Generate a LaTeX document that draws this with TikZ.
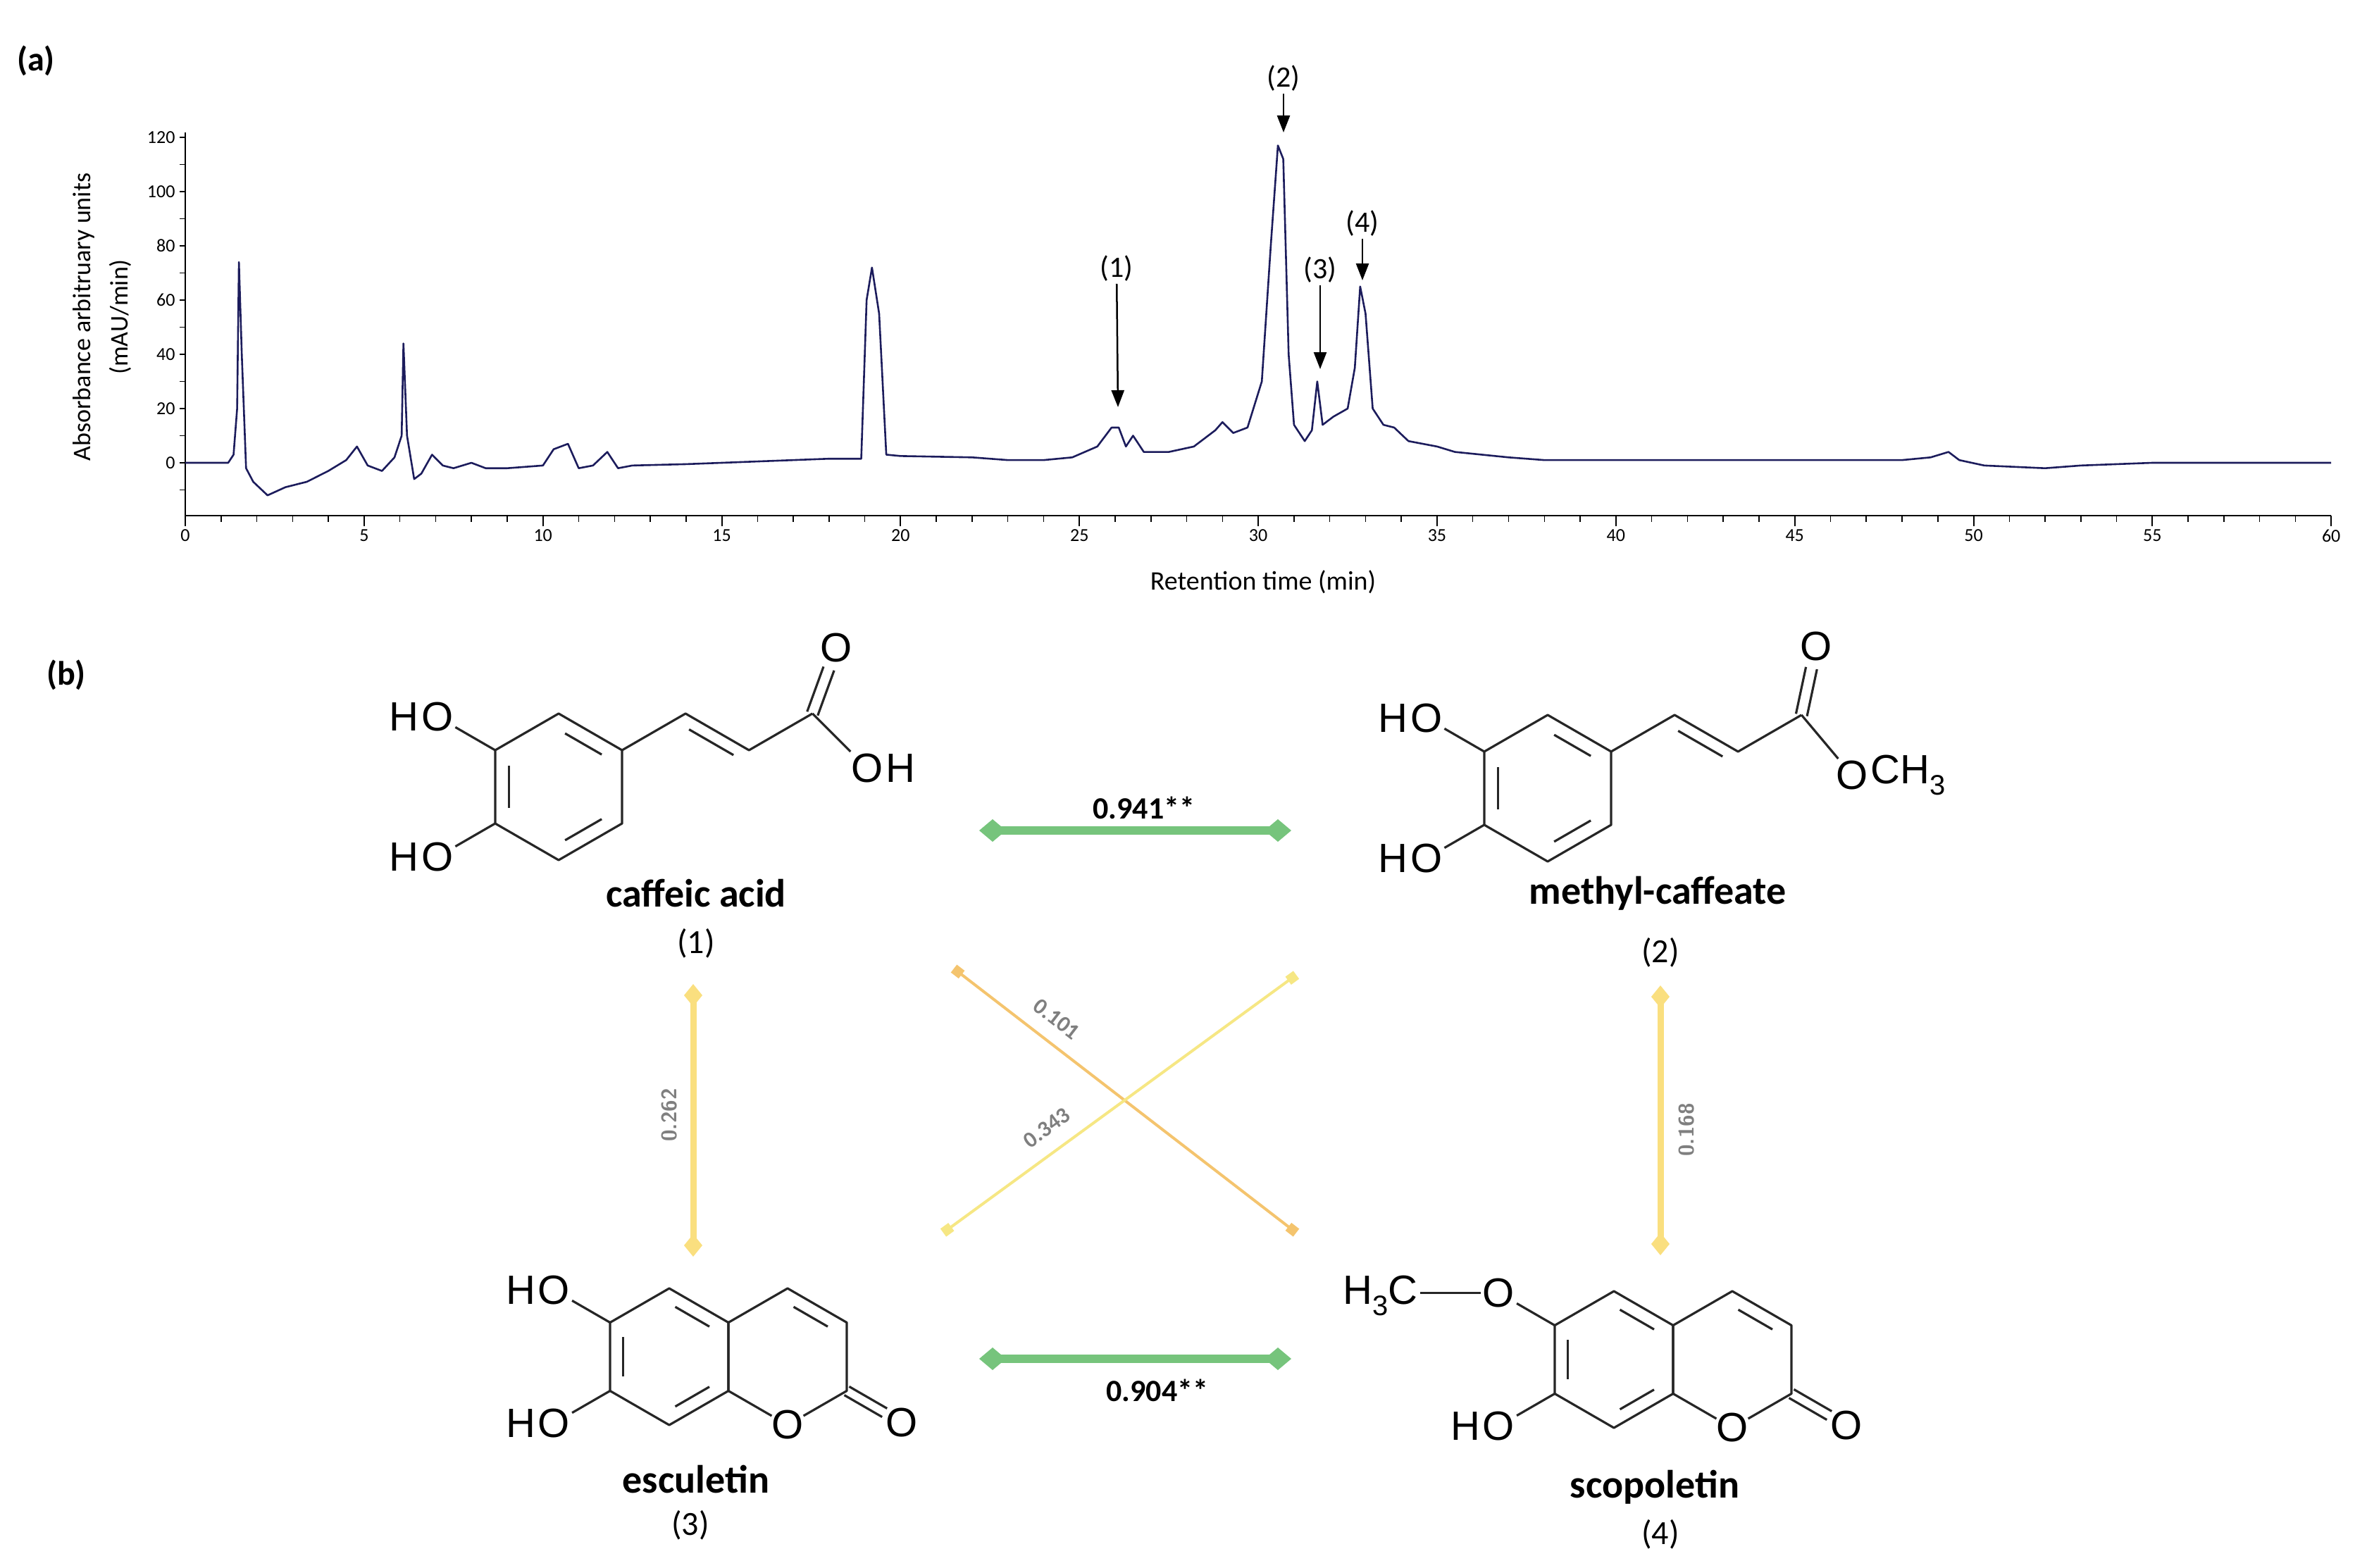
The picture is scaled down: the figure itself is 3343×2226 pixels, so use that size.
\documentclass[tikz,border=0pt]{standalone}
\usepackage{fontspec}
\setmainfont{Carlito}
\newfontfamily\chemf{Liberation Sans}
\usetikzlibrary{calc,arrows.meta}
\definecolor{navy}{HTML}{1C1C5C}
\definecolor{cgreen}{HTML}{76C47C}
\definecolor{cyel}{HTML}{FADF7F}
\definecolor{corange}{HTML}{F4C46E}
\definecolor{clyel}{HTML}{F6E784}
\definecolor{lgray}{HTML}{7F7F7F}
\newcommand\sbt{\raisebox{-0.28em}{\fontsize{40}{40}\selectfont 3}}
\tikzset{
 bond/.style={line width=3.2pt,black!85},
 atomlab/.style={font=\chemf\fontsize{58}{60}\selectfont,inner sep=3pt},
 cname/.style={font=\bfseries\fontsize{56}{60}\selectfont},
 cnum/.style={font=\fontsize{48}{54}\selectfont},
 peaklab/.style={font=\fontsize{42}{48}\selectfont},
 ticklab/.style={font=\fontsize{26}{30}\selectfont},
 pkarrow/.style={-{Triangle[length=24pt,width=18pt]},line width=2.5pt},
 strong/.style={cgreen,line width=12pt,{Diamond[length=38pt,width=32pt]}-{Diamond[length=38pt,width=32pt]}},
 weakv/.style={cyel,line width=9pt,{Diamond[length=32pt,width=26pt]}-{Diamond[length=32pt,width=26pt]}},
 weakd/.style={line width=4pt,{Square[length=14pt,width=14pt]}-{Square[length=14pt,width=14pt]}},
 coeflab/.style={font=\bfseries\fontsize{44}{48}\selectfont},
 wcoef/.style={font=\bfseries\fontsize{32}{36}\selectfont,text=lgray,inner sep=1pt}
}
\newcommand\ring[3]{\foreach \k in {0,...,5} \coordinate (#1\k) at ($(#2)+({90-60*\k}:#3)$);
 \coordinate (#1c) at (#2);
 \draw[bond,line join=round] (#10)--(#11)--(#12)--(#13)--(#14)--(#15)--cycle;}
\newcommand\inb[3]{\draw[bond] ($($(#1)!0.22!(#3)$)!0.13!($(#2)!0.22!(#3)$)$) -- ($($(#2)!0.22!(#3)$)!0.13!($(#1)!0.22!(#3)$)$);}
\begin{document}
\begin{tikzpicture}[x=1pt,y=-1pt]
\useasboundingbox (0,0) rectangle (3343,2226);
% ---------- (a) ----------
\node[font=\bfseries\fontsize{48}{50}\selectfont] (la) at (51,86) {(a)};
\draw[line width=2.5pt] (263,188) -- (263,732) -- (3309,732);
\foreach \t in {0,...,60} \draw[line width=1.5pt] ({263+\t*50.77},732) -- ++(0,9);
\foreach \t in {0,5,...,60} {\draw[line width=2pt] ({263+\t*50.77},732) -- ++(0,15);
 \node[ticklab,anchor=north] at ({263+\t*50.77},748) {\t};}
\foreach \v in {-10,0,10,...,120} \draw[line width=1.5pt] (263,{657-\v*3.85}) -- ++(-8,0);
\foreach \v in {0,20,...,120} \node[ticklab,anchor=east] at (252,{657-\v*3.85}) {\v};
\node[font=\fontsize{36}{53}\selectfont,rotate=90,align=center] (ylab) at (145,450) {Absorbance arbitruary units\\(mAU/min)};
\node[font=\fontsize{38}{40}\selectfont] (xlab) at (1793,826) {Retention time (min)};
\begin{scope}[shift={(263,657)},x=50.77pt,y=3.85pt]
\draw[navy,line width=2.6pt,line join=round] plot coordinates {
(0,0)(1.2,0)(1.35,3)(1.45,20)(1.5,74)(1.58,40)(1.7,-2)(1.9,-7)(2.3,-12)(2.8,-9)(3.4,-7)(4,-3)(4.5,1)(4.8,6)(5.1,-1)(5.5,-3)(5.85,2)(6.05,10)(6.1,44)(6.2,10)(6.4,-6)(6.6,-4)(6.9,3)(7.2,-1)(7.5,-2)(8,0)(8.4,-2)(9,-2)(10,-1)(10.3,5)(10.7,7)(11,-2)(11.4,-1)(11.8,4)(12.1,-2)(12.5,-1)(14,-0.5)(15,0)(16,0.5)(17,1)(18,1.5)(18.9,1.5)(19.05,60)(19.2,72)(19.4,55)(19.6,3)(20,2.5)(22,2)(23,1)(24,1)(24.8,2)(25.5,6)(25.9,13)(26.1,13)(26.3,6)(26.5,10)(26.8,4)(27.5,4)(28.2,6)(28.8,12)(29,15)(29.3,11)(29.7,13)(30.1,30)(30.35,80)(30.55,117)(30.7,112)(30.85,40)(31,14)(31.3,8)(31.5,12)(31.65,30)(31.8,14)(32.1,17)(32.5,20)(32.7,35)(32.85,65)(33,55)(33.2,20)(33.5,14)(33.8,13)(34.2,8)(35,6)(35.5,4)(37,2)(38,1)(42,1)(46,1)(48,1)(48.8,2)(49.3,4)(49.6,1)(50.3,-1)(52,-2)(53,-1)(55,0)(60,0)};
\end{scope}
\node[peaklab] (p1) at (1585,381) {(1)};
\node[peaklab] (p2) at (1822,111) {(2)};
\node[peaklab] (p3) at (1874,383) {(3)};
\node[peaklab] (p4) at (1934,317) {(4)};
\coordinate (e1) at (1587,578); \coordinate (e2) at (1822,188);
\coordinate (e3) at (1874,524); \coordinate (e4) at (1934,398);
\draw[pkarrow] (p1) -- (e1); \draw[pkarrow] (p2) -- (e2); \draw[pkarrow] (p3) -- (e3); \draw[pkarrow] (p4) -- (e4);
% ---------- (b) ----------
\node[font=\bfseries\fontsize{48}{50}\selectfont] (lb) at (94,958) {(b)};
% caffeic acid
\begin{scope}[shift={(793,1117)},y=1pt]
\ring{A}{0,0}{104}
\inb{A4}{A5}{Ac}\inb{A0}{A1}{Ac}\inb{A2}{A3}{Ac}
\node[atomlab] (Ao1) at ($(A5)+(150:95)$) {O}; \node[atomlab,anchor=east,inner sep=0] at (Ao1.west) {H};
\node[atomlab] (Ao2) at ($(A4)+(-150:95)$) {O}; \node[atomlab,anchor=east,inner sep=0] at (Ao2.west) {H};
\draw[bond] (A5)--(Ao1); \draw[bond] (A4)--(Ao2);
\coordinate (Aa1) at ($(A1)+(30:104)$); \coordinate (Aa2) at ($(Aa1)+(-30:104)$); \coordinate (Aa3) at ($(Aa2)+(30:104)$);
\draw[bond,line join=round] (A1)--(Aa1)--(Aa2)--(Aa3);
\draw[bond] ($(Aa1)!0.15!(Aa2)+(-120:17)$) -- ($(Aa2)!0.15!(Aa1)+(-120:17)$);
\node[atomlab] (AO) at ($(Aa3)+(70:100)$) {O};
\draw[bond] ($(Aa3)+(160:8)$) -- ($(Aa3)+(70:68)+(160:8)$);
\draw[bond] ($(Aa3)+(-20:8)$) -- ($(Aa3)+(70:68)+(-20:8)$);
\node[atomlab] (AOH) at ($(Aa3)+(-45:110)$) {O}; \node[atomlab,anchor=west,inner sep=0] at (AOH.east) {H};
\draw[bond] (Aa3)--(AOH);
\end{scope}
% methyl caffeate
\begin{scope}[shift={(2197,1119)},y=1pt]
\ring{B}{0,0}{104}
\inb{B4}{B5}{Bc}\inb{B0}{B1}{Bc}\inb{B2}{B3}{Bc}
\node[atomlab] (Bo1) at ($(B5)+(150:95)$) {O}; \node[atomlab,anchor=east,inner sep=0] at (Bo1.west) {H};
\node[atomlab] (Bo2) at ($(B4)+(-150:95)$) {O}; \node[atomlab,anchor=east,inner sep=0] at (Bo2.west) {H};
\draw[bond] (B5)--(Bo1); \draw[bond] (B4)--(Bo2);
\coordinate (Ba1) at ($(B1)+(30:104)$); \coordinate (Ba2) at ($(Ba1)+(-30:104)$); \coordinate (Ba3) at ($(Ba2)+(30:104)$);
\draw[bond,line join=round] (B1)--(Ba1)--(Ba2)--(Ba3);
\draw[bond] ($(Ba1)!0.15!(Ba2)+(-120:17)$) -- ($(Ba2)!0.15!(Ba1)+(-120:17)$);
\node[atomlab] (BO) at ($(Ba3)+(78:100)$) {O};
\draw[bond] ($(Ba3)+(168:8)$) -- ($(Ba3)+(78:68)+(168:8)$);
\draw[bond] ($(Ba3)+(-12:8)$) -- ($(Ba3)+(78:68)+(-12:8)$);
\node[atomlab] (BOM) at ($(Ba3)+(-50:112)$) {O}; \node[atomlab,anchor=west,inner sep=0] at (BOM.east) {CH\sbt};
\draw[bond] (Ba3)--(BOM);
\end{scope}
% esculetin
\begin{scope}[shift={(950,1926)},y=1pt]
\ring{C}{0,0}{97}
\ring{D}{168,0}{97}
\inb{C4}{C5}{Cc}\inb{C0}{C1}{Cc}\inb{C2}{C3}{Cc}\inb{D0}{D1}{Dc}
\node[atomlab] (Co1) at ($(C5)+(150:92)$) {O}; \node[atomlab,anchor=east,inner sep=0] at (Co1.west) {H};
\node[atomlab] (Co2) at ($(C4)+(-150:92)$) {O}; \node[atomlab,anchor=east,inner sep=0] at (Co2.west) {H};
\draw[bond] (C5)--(Co1); \draw[bond] (C4)--(Co2);
\fill[white] (D3) circle (26);
\node[atomlab] (Cro) at (D3) {O};
\node[atomlab] (Cco) at ($(D2)+(-30:90)$) {O};
\draw[bond] ($(D2)+(60:7)$) -- ($(D2)+(-30:62)+(60:7)$);
\draw[bond] ($(D2)+(-120:7)$) -- ($(D2)+(-30:62)+(-120:7)$);
\end{scope}
% scopoletin
\begin{scope}[shift={(2291,1930)},y=1pt]
\ring{E}{0,0}{97}
\ring{F}{168,0}{97}
\inb{E4}{E5}{Ec}\inb{E0}{E1}{Ec}\inb{E2}{E3}{Ec}\inb{F0}{F1}{Fc}
\node[atomlab] (Eo1) at ($(E5)+(150:92)$) {O};
\node[atomlab] (Ehc) at ($(Eo1)+(-168,-4)$) {H\sbt C};
\draw[bond] (E5)--(Eo1); \draw[bond] (Ehc.east|-Eo1) -- (Eo1);
\node[atomlab] (Eo2) at ($(E4)+(-150:92)$) {O}; \node[atomlab,anchor=east,inner sep=0] at (Eo2.west) {H};
\draw[bond] (E4)--(Eo2);
\fill[white] (F3) circle (26);
\node[atomlab] (Ero) at (F3) {O};
\node[atomlab] (Eco) at ($(F2)+(-30:90)$) {O};
\draw[bond] ($(F2)+(60:7)$) -- ($(F2)+(-30:62)+(60:7)$);
\draw[bond] ($(F2)+(-120:7)$) -- ($(F2)+(-30:62)+(-120:7)$);
\end{scope}
% names
\node[cname] (n1) at (988,1268) {caffeic acid};
\node[cnum] (m1) at (988,1339) {(1)};
\node[cname] (n2) at (2353,1268) {methyl-caffeate};
\node[cnum] (m2) at (2357,1352) {(2)};
\node[cname] (n3) at (988,2100) {esculetin};
\node[cnum] (m3) at (980,2165) {(3)};
\node[cname] (n4) at (2349,2111) {scopoletin};
\node[cnum] (m4) at (2357,2178) {(4)};
% correlations
\coordinate (g1a) at (1390,1179); \coordinate (g1b) at (1833,1179);
\coordinate (g2a) at (1390,1929); \coordinate (g2b) at (1833,1929);
\coordinate (v1a) at (984,1397); \coordinate (v1b) at (984,1784);
\coordinate (v2a) at (2357,1399); \coordinate (v2b) at (2357,1782);
\coordinate (d1a) at (1354,1375); \coordinate (d1b) at (1840,1750);
\coordinate (d2a) at (1339,1750); \coordinate (d2b) at (1840,1384);
\draw[strong] (g1a) -- (g1b);
\draw[strong] (g2a) -- (g2b);
\draw[weakv] (v1a) -- (v1b);
\draw[weakv] (v2a) -- (v2b);
\draw[weakd,corange] (d1a) -- (d1b);
\draw[weakd,clyel] (d2a) -- (d2b);
\node[coeflab] (c1) at (1624,1147) {0.941**};
\node[coeflab] (c2) at (1643,1974) {0.904**};
\node[wcoef,font=\sffamily\bfseries\fontsize{30}{34}\selectfont,rotate=90] (c3) at (950,1583) {0.262};
\node[wcoef,font=\sffamily\bfseries\fontsize{30}{34}\selectfont,rotate=90] (c4) at (2394,1604) {0.168};
\node[wcoef,rotate=-37.6] (c5) at (1500,1447) {0.101};
\node[wcoef,rotate=36.2] (c6) at (1486,1601) {0.343};
\end{tikzpicture}
\end{document}
